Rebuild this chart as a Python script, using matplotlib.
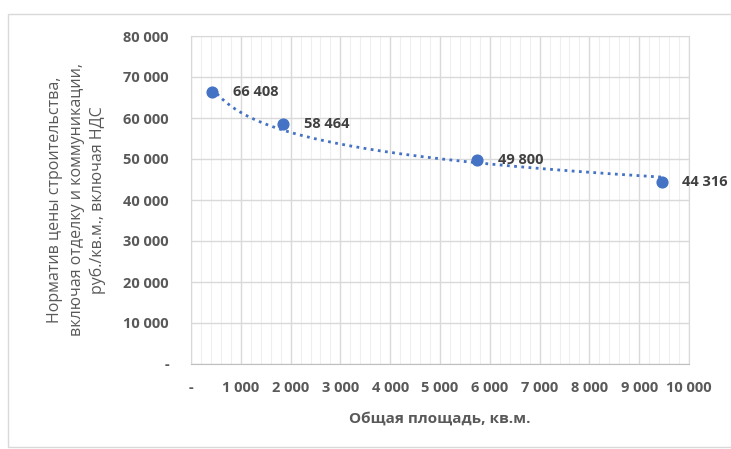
import matplotlib.pyplot as plt
from matplotlib.patches import Rectangle
from matplotlib.ticker import FuncFormatter, MultipleLocator
import numpy as np

# data
area = [430, 1850, 5740, 9450]
price = [66408, 58464, 49800, 44316]
x_ticks = list(range(0, 10001, 1000))
y_ticks = list(range(0, 80001, 10000))

x_title = 'Общая площадь, кв.м.'
y_title = 'Норматив цены строительства,\nвключая отделку и коммуникации,\nруб./кв.м., включая НДС'

plt.rcParams['font.family'] = ['Open Sans', 'DejaVu Sans']

def fmt(v, pos=None):
    if v == 0:
        return '-'
    return '{:,.0f}'.format(v).replace(',', ' ')

fig = plt.figure(figsize=(7.31, 4.49), dpi=100)
ax = fig.add_axes([191/731, 1-364/449, 498/731, 328/449])

# outer chart border
fig.patches.append(Rectangle((8/731, 2/449), 1.2, 433/449, transform=fig.transFigure,
                             fill=False, edgecolor='#D9D9D9', lw=1))

# log trendline like excel
k, b = np.polyfit(np.log(area), price, 1)
xs = np.linspace(min(area), max(area), 200)
ax.plot(xs, k*np.log(xs) + b, ls=(0, (1, 1.6)), color='#4472C4', lw=2, zorder=3)

ax.scatter(area, price, s=60, color='#4472C4', zorder=4)
for xv, yv in zip(area, price):
    ax.annotate(fmt(yv), (xv, yv), xytext=(15, 0), textcoords='offset points',
                ha='left', va='center', fontsize=10.5, fontweight='bold', color='#404040',
                annotation_clip=False)

ax.set_xlim(0, 10000)
ax.set_ylim(0, 80000)
ax.set_xticks(x_ticks)
ax.set_yticks(y_ticks)
ax.xaxis.set_minor_locator(MultipleLocator(200))
ax.xaxis.set_major_formatter(FuncFormatter(fmt))
ax.yaxis.set_major_formatter(FuncFormatter(fmt))
ax.grid(which='major', color='#D9D9D9', lw=1)
ax.grid(which='minor', axis='x', color='#EFEFEF', lw=0.8)
ax.set_axisbelow(True)
ax.tick_params(which='both', length=0, labelsize=10.5, labelcolor='#595959')
ax.tick_params(axis='x', pad=12)
ax.tick_params(axis='y', pad=16)
for lbl in ax.get_xticklabels() + ax.get_yticklabels():
    lbl.set_fontweight('bold')
for s in ['top', 'right', 'left']:
    ax.spines[s].set_color('#D9D9D9')
ax.spines['bottom'].set_color('#BFBFBF')

ax.set_xlabel(x_title, fontsize=11, fontweight='bold', color='#595959', labelpad=12)
ax.set_ylabel(y_title, fontsize=11.5, color='#595959', labelpad=12, linespacing=1.45)

fig.savefig('out.png', dpi=100)
